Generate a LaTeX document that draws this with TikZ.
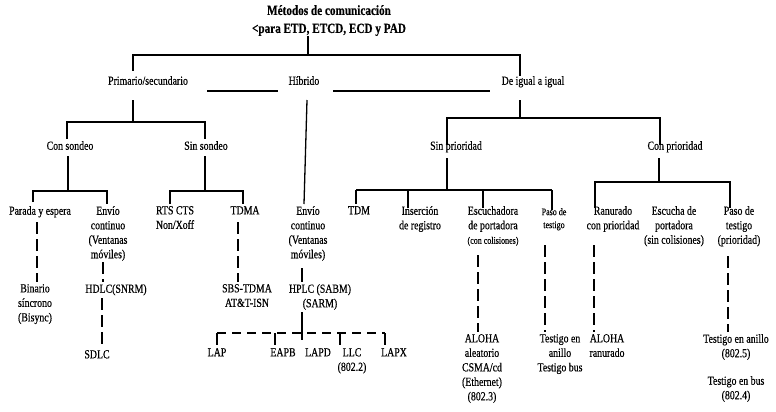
\documentclass[tikz,border=0pt]{standalone}
\usepackage{fontspec}
\setmainfont{Liberation Serif}[FakeStretch=0.8,FakeBold=0.4]
\begin{document}
\begin{tikzpicture}[x=1pt,y=-1pt,
  lbl/.style={anchor=north,inner sep=0pt,align=center,font=\fontsize{12.3}{14.5}\selectfont},
  sm/.style={lbl,font=\fontsize{10}{13}\selectfont},
  ttl/.style={anchor=north,inner sep=0pt,align=center,font=\fontsize{14}{18}\selectfont\bfseries},
  tree/.style={line width=1.3pt},
  brk/.style={line width=1.3pt,dash pattern=on 12pt off 5pt},
  hbrk/.style={line width=1.3pt,dash pattern=on 9pt off 6pt}]
\useasboundingbox (0,0) rectangle (776,412);

% ---- title ----
\node[ttl] (title) at (329,5) {Métodos de comunicación\\<para ETD, ETCD, ECD y PAD};

% ---- first level ----
\node[lbl] (prim)  at (148,76) {Primario/secundario};
\node[lbl] (hib)   at (304,76) {Híbrido};
\node[lbl] (igual) at (533,76) {De igual a igual};

% ---- second level ----
\node[lbl] (conS) at (70,141)  {Con sondeo};
\node[lbl] (sinS) at (206,141) {Sin sondeo};
\node[lbl] (sinP) at (456,141) {Sin prioridad};
\node[lbl] (conP) at (675,141) {Con prioridad};

% ---- third level ----
\node[lbl] (parada) at (40,206)  {Parada y espera};
\node[lbl] (envA)   at (108,206) {Envío\\continuo\\(Ventanas\\móviles)};
\node[lbl] (rts)    at (175,206) {RTS CTS\\Non/Xoff};
\node[lbl] (tdma)   at (245,206) {TDMA};
\node[lbl] (envB)   at (308,206) {Envío\\continuo\\(Ventanas\\móviles)};
\node[lbl] (tdm)    at (359,206) {TDM};
\node[lbl] (ins)    at (420,206) {Inserción\\de registro};
\node[lbl] (esc)    at (493,206) {Escuchadora\\de portadora\\{\fontsize{10}{12}\selectfont (con colisiones)}};
\node[sm]  (pasoA)  at (554,208) {Paso de\\testigo};
\node[lbl] (ran)    at (613,206) {Ranurado\\con prioridad};
\node[lbl] (escB)   at (674,206) {Escucha de\\portadora\\(sin colisiones)};
\node[lbl] (pasoB)  at (739,206) {Paso de\\testigo\\(prioridad)};

% ---- fourth level ----
\node[lbl] (bin)   at (35,284)  {Binario\\síncrono\\(Bisync)};
\node[lbl] (hdlc)  at (116,284) {HDLC(SNRM)};
\node[lbl] (sbs)   at (247,284) {SBS-TDMA\\AT\&T-ISN};
\node[lbl] (hplc)  at (320,284) {HPLC (SABM)\\(SARM)};
\node[lbl] (sdlc)  at (97,350)  {SDLC};
\node[lbl] (lap)   at (217,348) {LAP};
\node[lbl] (eapb)  at (283,348) {EAPB};
\node[lbl] (lapd)  at (318,348) {LAPD};
\node[lbl] (llc)   at (352,348) {LLC\\(802.2)};
\node[lbl] (lapx)  at (394,348) {LAPX};
\node[lbl] (aloA)  at (482,334) {ALOHA\\aleatorio\\CSMA/cd\\(Ethernet)\\(802.3)};
\node[lbl] (tesA)  at (560,334) {Testigo en\\anillo\\Testigo bus};
\node[lbl] (aloB)  at (607,334) {ALOHA\\ranurado};
\node[lbl] (tesB)  at (736,334) {Testigo en anillo\\(802.5)\\[13pt]Testigo en bus\\(802.4)};

% ---- junction points ----
\coordinate (t0) at (308,55);
\coordinate (tL) at (133,55);
\coordinate (tR) at (520,55);
\coordinate (s1a) at (207,91); \coordinate (s1b) at (278,91);
\coordinate (s2a) at (333,91); \coordinate (s2b) at (490,91);
\coordinate (p0) at (133,100); \coordinate (p1) at (133,122);
\coordinate (pa) at (67,122);  \coordinate (pb) at (205,122);
\coordinate (c0) at (68,156);  \coordinate (c1) at (68,191);
\coordinate (ca) at (33,191);  \coordinate (cb) at (107,191);
\coordinate (d0) at (205,156); \coordinate (d1) at (205,191);
\coordinate (da) at (170,191); \coordinate (db) at (243,191);
\coordinate (h0) at (307,100); \coordinate (h1) at (304,204);
\coordinate (i0) at (520,100); \coordinate (i1) at (520,118);
\coordinate (ia) at (447,118); \coordinate (ib) at (660,118);
\coordinate (q0) at (447,158); \coordinate (q1) at (447,190);
\coordinate (qa) at (356,190); \coordinate (qb) at (408,190);
\coordinate (qc) at (483,190); \coordinate (qd) at (552,190);
\coordinate (r0) at (659,158); \coordinate (r1) at (659,182);
\coordinate (ra) at (595,182); \coordinate (rb) at (730,182);
\coordinate (k1) at (37,222);
\coordinate (k2) at (103,262);
\coordinate (k3) at (102,298);
\coordinate (k4) at (238,222);
\coordinate (k5) at (302,268);
\coordinate (l0) at (302,312);
\coordinate (la) at (217,333); \coordinate (lb) at (275,333);
\coordinate (lc) at (340,333); \coordinate (ld) at (385,333);
\coordinate (m1) at (478,255);
\coordinate (m2) at (545,245);
\coordinate (m3) at (594,245);
\coordinate (m4) at (728,256);

% ---- solid tree ----
\draw[tree] (t0 |- title.south) -- (t0);
\draw[tree] ([yshift=5pt]tL |- prim.north) -- (tL) -- (tR) -- (tR |- igual.north);
\draw[tree] (s1a) -- (s1b);
\draw[tree] (s2a) -- (s2b);

\draw[tree] (p0) -- (p1);
\draw[tree] ([yshift=2pt]pa |- conS.north) -- (pa) -- (pb) -- ([yshift=2pt]pb |- sinS.north);
\draw[tree] (c0) -- (c1);
\draw[tree] ([yshift=4pt]ca |- parada.north) -- (ca) -- (cb) -- ([yshift=2pt]cb |- envA.north);
\draw[tree] (d0) -- (d1);
\draw[tree] ([yshift=2pt]da |- rts.north) -- (da) -- (db) -- ([yshift=2pt]db |- tdma.north);
\draw[tree] (h0) -- (h1);

\draw[tree] (i0) -- (i1);
\draw[tree] ([yshift=-4pt]ia |- sinP.north) -- (ia) -- (ib) -- ([yshift=-4pt]ib |- conP.north);
\draw[tree] (q0) -- (q1);
\draw[tree] (qa) -- (qd);
\draw[tree] (qa) -- ([yshift=2pt]qa |- tdm.north);
\draw[tree] (qb) -- ([yshift=-2pt]qb |- ins.north);
\draw[tree] (qc) -- ([yshift=-2pt]qc |- esc.north);
\draw[tree] (qd) -- ([yshift=-2pt]qd |- pasoA.north);
\draw[tree] (r0) -- (r1);
\draw[tree] ([yshift=-2pt]ra |- ran.north) -- (ra) -- (rb) -- ([yshift=-2pt]rb |- pasoB.north);

% ---- broken links ----
\draw[brk] (k1) -- ([yshift=2pt]k1 |- bin.north);
\draw[brk] (k2) -- ([yshift=2pt]k2 |- hdlc.north);
\draw[brk] (k3) -- ([yshift=3pt]k3 |- sdlc.north);
\draw[brk] (k4) -- ([yshift=2pt]k4 |- sbs.north);
\draw[tree] (k5) -- ([yshift=2pt]k5 |- hplc.north);
\draw[tree] (l0) -- ([yshift=8pt]l0 |- lapd.north);
\draw[hbrk] (la) -- (ld);
\draw[tree] (la) -- ([yshift=3pt]la |- lap.north);
\draw[tree] (lb) -- ([yshift=3pt]lb |- eapb.north);
\draw[tree] (lc) -- ([yshift=3pt]lc |- llc.north);
\draw[tree] (ld) -- ([yshift=3pt]ld |- lapx.north);
\draw[brk] (m1) -- ([yshift=2pt]m1 |- aloA.north);
\draw[brk] (m2) -- ([yshift=2pt]m2 |- tesA.north);
\draw[brk] (m3) -- ([yshift=2pt]m3 |- aloB.north);
\draw[brk] (m4) -- ([yshift=2pt]m4 |- tesB.north);
\end{tikzpicture}
\end{document}
